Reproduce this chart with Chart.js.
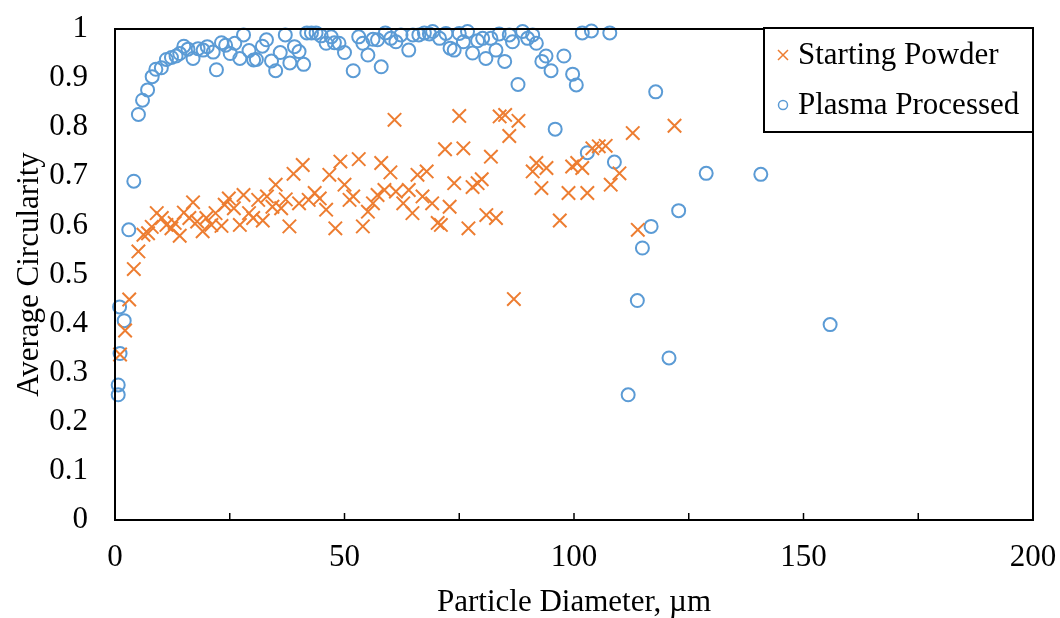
<!DOCTYPE html>
<html>
<head>
<meta charset="utf-8">
<script src="https://cdn.jsdelivr.net/npm/chart.js@4"></script>
<style>
  html, body { margin: 0; padding: 0; background: #fff; }
  #wrap { width: 1060px; height: 618px; }
</style>
</head>
<body>
<div id="wrap"><canvas id="chart"></canvas></div>
<script>
// values
const powderDiameter = [1.1, 2.2, 3.1, 4.1, 5.1, 6.2, 7.2, 8.0, 9.1, 10.2, 11.2, 12.3, 13.0, 14.1, 15.0, 16.2, 17.0, 17.9, 19.1, 19.9,
  21.0, 21.9, 23.2, 23.9, 24.8, 25.9, 27.2, 28.0, 29.2, 30.1, 31.2, 32.2, 33.1, 34.3, 35.0, 36.2, 37.2, 38.0, 38.9, 40.1,
  40.9, 42.2, 43.5, 44.6, 46.0, 46.7, 48.0, 49.1, 50.0, 51.1, 51.9, 53.1, 54.0, 55.1, 56.2, 57.2, 58.0, 58.7, 60.0, 60.9,
  61.2, 62.8, 64.0, 64.8, 65.9, 67.0, 67.9, 69.1, 70.3, 71.0, 71.9, 72.9, 73.9, 75.0, 75.9, 77.0, 77.9, 79.0, 79.9, 80.9,
  81.9, 83.0, 83.8, 85.0, 85.9, 86.9, 87.9, 91.0, 91.8, 92.9, 94.0, 96.9, 98.8, 99.6, 100.7, 101.8, 102.9, 104.0, 105.4, 106.9,
  108.0, 109.9, 112.8, 113.9, 121.9];
const powderCircularity = [0.337, 0.386, 0.449, 0.511, 0.547, 0.581, 0.584, 0.597, 0.625, 0.615, 0.601, 0.594, 0.605, 0.579, 0.626, 0.615, 0.647, 0.608, 0.588, 0.615,
  0.601, 0.625, 0.599, 0.642, 0.655, 0.635, 0.601, 0.662, 0.625, 0.615, 0.652, 0.610, 0.659, 0.638, 0.683, 0.635, 0.653, 0.598, 0.705, 0.645,
  0.723, 0.652, 0.666, 0.655, 0.632, 0.703, 0.594, 0.730, 0.683, 0.652, 0.659, 0.735, 0.598, 0.628, 0.645, 0.662, 0.727, 0.672, 0.708, 0.815,
  0.669, 0.645, 0.672, 0.625, 0.703, 0.659, 0.710, 0.645, 0.605, 0.601, 0.755, 0.638, 0.686, 0.823, 0.757, 0.594, 0.678, 0.686, 0.694, 0.621,
  0.740, 0.615, 0.822, 0.825, 0.782, 0.450, 0.813, 0.710, 0.727, 0.676, 0.717, 0.610, 0.666, 0.720, 0.727, 0.717, 0.666, 0.757, 0.761, 0.762,
  0.683, 0.706, 0.788, 0.591, 0.803];

const plasmaDiameter = [0.7, 0.7, 1.0, 2.0, 1.1, 3.0, 4.1, 5.1, 6.0, 7.1, 8.1, 8.9, 10.1, 11.2, 12.3, 13.3, 14.1, 15.0, 15.9, 17.0,
  18.1, 19.2, 20.1, 21.4, 22.1, 23.2, 24.1, 25.1, 26.1, 27.2, 28.0, 29.2, 30.2, 30.8, 32.1, 33.0, 34.1, 35.0, 36.0, 37.1,
  38.1, 39.1, 40.1, 41.1, 41.8, 42.8, 43.8, 44.9, 46.0, 47.1, 47.8, 48.8, 50.0, 51.9, 53.1, 54.0, 55.1, 56.2, 57.2, 58.0,
  58.9, 60.1, 61.2, 62.3, 64.0, 64.9, 66.2, 67.4, 68.5, 69.2, 70.7, 72.1, 73.0, 73.9, 75.0, 75.9, 76.8, 77.9, 79.0, 80.1,
  80.8, 81.9, 83.0, 83.7, 84.9, 85.9, 86.6, 87.8, 88.8, 89.9, 91.0, 91.8, 93.0, 93.9, 95.0, 95.9, 97.8, 99.7, 100.5, 101.8,
  103.8, 107.8, 102.9, 108.8, 111.8, 113.8, 114.9, 116.8, 117.8, 120.7, 122.8, 128.8, 140.7, 155.8];
const plasmaCircularity = [0.255, 0.275, 0.434, 0.406, 0.339, 0.591, 0.690, 0.826, 0.855, 0.876, 0.903, 0.918, 0.921, 0.938, 0.942, 0.945, 0.950, 0.965, 0.959, 0.940,
  0.960, 0.957, 0.964, 0.953, 0.917, 0.972, 0.967, 0.950, 0.971, 0.940, 0.988, 0.956, 0.937, 0.938, 0.965, 0.978, 0.935, 0.915, 0.952, 0.988,
  0.931, 0.964, 0.954, 0.928, 0.992, 0.992, 0.992, 0.986, 0.971, 0.984, 0.972, 0.971, 0.952, 0.915, 0.984, 0.971, 0.947, 0.979, 0.978, 0.923,
  0.992, 0.981, 0.974, 0.988, 0.957, 0.988, 0.988, 0.992, 0.990, 0.995, 0.981, 0.991, 0.961, 0.957, 0.991, 0.974, 0.995, 0.951, 0.976, 0.981,
  0.940, 0.981, 0.957, 0.990, 0.934, 0.988, 0.974, 0.887, 0.995, 0.981, 0.988, 0.971, 0.934, 0.945, 0.915, 0.796, 0.945, 0.908, 0.886, 0.992,
  0.996, 0.992, 0.748, 0.729, 0.255, 0.447, 0.554, 0.598, 0.872, 0.330, 0.630, 0.706, 0.704, 0.398];

const seriesNames = ['Starting Powder', 'Plasma Processed'];
const xTitle = 'Particle Diameter, \u00b5m';
const yTitle = 'Average Circularity';

const ORANGE = '#ED7D31';
const BLUE = '#5B9BD5';
const FONT = '"Liberation Serif", "Times New Roman", serif';

function toPoints(xs, ys) {
	return xs.map((x, i) => ({ x: x, y: ys[i] }));
}

// drop the label overflow so the plot box sits where the layout padding puts it
function noOverflow(s) {
	s.paddingTop = 0;
	s.paddingBottom = 0;
	s.paddingLeft = 0;
	s.paddingRight = 0;
}

// box round the plot, inward ticks on the x axis, legend inside the top right corner
const framePlugin = {
	id: 'frame',
	afterDraw(chart) {
		const ctx = chart.ctx;
		const area = chart.chartArea;
		const xs = chart.scales.x;
		ctx.save();
		ctx.strokeStyle = '#000';
		ctx.lineWidth = 2;
		ctx.strokeRect(area.left, area.top, area.right - area.left, area.bottom - area.top);

		ctx.lineWidth = 1.5;
		xs.ticks.forEach(t => {
			const px = xs.getPixelForValue(t.value);
			ctx.beginPath();
			ctx.moveTo(px, area.bottom);
			ctx.lineTo(px, area.bottom - 7);
			ctx.stroke();
		});

		// legend
		const w = 269, h = 104;
		const lx = area.right - w, ly = area.top - 1;
		ctx.fillStyle = '#fff';
		ctx.fillRect(lx, ly, w, h);
		ctx.lineWidth = 2;
		ctx.strokeStyle = '#000';
		ctx.strokeRect(lx, ly, w, h);

		ctx.font = '31px ' + FONT;
		ctx.textBaseline = 'middle';
		ctx.textAlign = 'left';
		const rows = [ly + 27, ly + 77];
		chart.data.datasets.forEach((ds, i) => {
			const cy = rows[i];
			const mx = lx + 19;
			ctx.strokeStyle = ds.borderColor;
			ctx.lineWidth = 1.5;
			ctx.beginPath();
			if (i === 0) {
				ctx.moveTo(mx - 5, cy - 5); ctx.lineTo(mx + 5, cy + 5);
				ctx.moveTo(mx + 5, cy - 5); ctx.lineTo(mx - 5, cy + 5);
			} else {
				ctx.arc(mx, cy, 4.5, 0, Math.PI * 2);
			}
			ctx.stroke();
			ctx.fillStyle = '#000';
			ctx.fillText(ds.label, lx + 34, cy + 1);
		});
		ctx.restore();
	}
};

new Chart(document.getElementById('chart'), {
	type: 'scatter',
	data: {
		datasets: [{
			label: seriesNames[0],
			data: toPoints(powderDiameter, powderCircularity),
			pointStyle: 'crossRot',
			pointRadius: 9.5,
			pointHoverRadius: 9.5,
			borderColor: ORANGE,
			backgroundColor: ORANGE,
			pointBorderWidth: 2,
			clip: false
		}, {
			label: seriesNames[1],
			data: toPoints(plasmaDiameter, plasmaCircularity),
			pointStyle: 'circle',
			pointRadius: 6.5,
			pointHoverRadius: 6.5,
			borderColor: BLUE,
			backgroundColor: 'rgba(0,0,0,0)',
			pointBorderWidth: 2,
			clip: false
		}]
	},
	options: {
		responsive: true,
		maintainAspectRatio: false,
		animation: false,
		layout: { padding: { top: 29, right: 27, left: 0, bottom: 0 } },
		plugins: {
			legend: { display: false },
			tooltip: { enabled: false }
		},
		scales: {
			x: {
				type: 'linear',
				min: 0,
				max: 200,
				grid: { display: false, drawTicks: false },
				border: { display: false },
				ticks: {
					stepSize: 25,
					padding: 22,
					color: '#000',
					font: { family: FONT, size: 31, lineHeight: 1 },
					callback: v => (v % 50 === 0 ? String(v) : '')
				},
				title: {
					display: true,
					text: xTitle,
					color: '#000',
					padding: 0,
					font: { family: FONT, size: 31, lineHeight: 1 }
				},
				afterFit: s => { s.height = 98; noOverflow(s); }
			},
			y: {
				min: 0,
				max: 1,
				grid: { display: false, drawTicks: false },
				border: { display: false },
				ticks: {
					stepSize: 0.1,
					padding: 27,
					color: '#000',
					font: { family: FONT, size: 31, lineHeight: 1 },
					callback: v => String(Number(v.toFixed(1)))
				},
				title: {
					display: true,
					text: yTitle,
					color: '#000',
					padding: { top: 14, bottom: 0 },
					font: { family: FONT, size: 31, lineHeight: 1 }
				},
				afterFit: s => { s.width = 115; noOverflow(s); }
			}
		}
	},
	plugins: [framePlugin]
});
</script>
</body>
</html>
